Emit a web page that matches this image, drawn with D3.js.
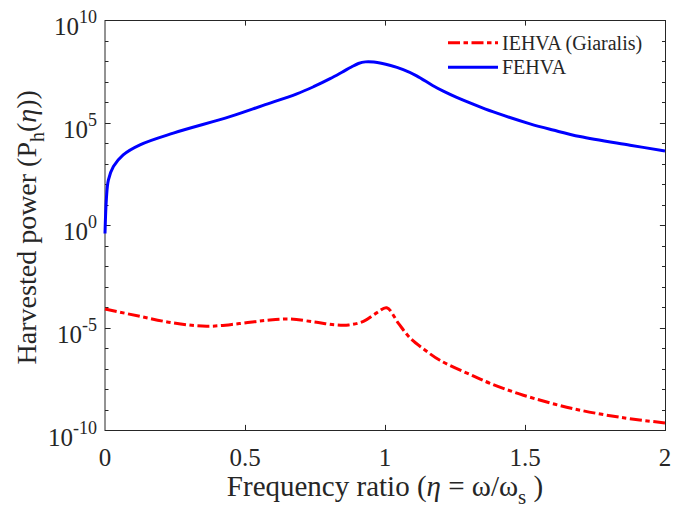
<!DOCTYPE html>
<html>
<head>
<meta charset="utf-8">
<script src="https://cdn.jsdelivr.net/npm/d3@7"></script>
<style>
  body { margin: 0; background: #fff; }
  svg { display: block; }
  text { font-family: "Liberation Serif", "Times New Roman", serif; fill: #262626; }
</style>
</head>
<body>
<div id="chart"></div>
<script>
// frequency ratio eta
var etaFe = [0, 0.005, 0.012, 0.03, 0.065, 0.125, 0.244, 0.446, 0.565, 0.685, 0.745, 0.804, 0.852, 0.88,
             0.905, 0.93, 0.96, 1.02, 1.065, 1.113, 1.17, 1.21, 1.256, 1.339, 1.4, 1.518, 1.6, 1.696,
             1.875, 2];
var powerFe = [0.40, 20, 158, 724, 2690, 8320, 30900, 1.95e5, 6.92e5, 2.51e6, 5.62e6, 1.38e7, 3.16e7, 5.13e7,
               7.59e7, 9.12e7, 8.91e7, 6.03e7, 3.80e7, 1.91e7, 6.46e6, 3.31e6, 1.70e6, 5.89e5, 2.88e5, 8.71e4,
               4.37e4, 2.09e4, 7.94e3, 4.17e3];

var etaIe = [0, 0.125, 0.244, 0.363, 0.48, 0.577, 0.66, 0.756, 0.82, 0.87, 0.923, 0.97, 1.006, 1.048,
             1.09, 1.14, 1.196, 1.315, 1.375, 1.494, 1.673, 1.851, 2];
var powerIe = [8.32e-5, 3.63e-5, 1.74e-5, 1.20e-5, 1.62e-5, 2.34e-5, 2.69e-5, 1.86e-5, 1.41e-5, 1.38e-5,
               2.09e-5, 5.37e-5, 9.55e-5, 1.66e-5, 3.16e-6, 8.91e-7, 2.63e-7, 4.57e-8, 2.0e-8, 5.25e-9,
               1.15e-9, 4.17e-10, 2.34e-10];

var xTicks = [0, 0.5, 1, 1.5, 2];
var xTickLabels = ["0", "0.5", "1", "1.5", "2"];
var yMajorExp = [-10, -5, 0, 5, 10];
var yMinorExp = d3.range(-9, 10);   // one tick per decade
var seriesNames = ["IEHVA (Giaralis)", "FEHVA"];

var W = 694, H = 511;
// NB: "top" is taken by window.top, so keep these prefixed
var pL = 105, pR = 665, pT = 20, pB = 430.5;
var axisColor = "#262626";

var svg = d3.select("#chart").append("svg")
    .attr("width", W)
    .attr("height", H);

var x = d3.scaleLinear().domain([0, 2]).range([pL, pR]);
var y = d3.scaleLog().domain([1e-10, 1e10]).range([pB, pT]);

// box
var g = svg.append("g").attr("fill", "none").attr("stroke", axisColor).attr("stroke-width", 1);
g.append("line").attr("x1", pL).attr("x2", pL).attr("y1", pT).attr("y2", pB + 0.5);
g.append("line").attr("x1", pR + 0.5).attr("x2", pR + 0.5).attr("y1", pT).attr("y2", pB + 0.5);
g.append("line").attr("x1", pL).attr("x2", pR + 0.5).attr("y1", pB).attr("y2", pB);
g.append("line").attr("x1", pL).attr("x2", pR + 0.5).attr("y1", pT + 0.5).attr("y2", pT + 0.5);

// x ticks, bottom and top
xTicks.forEach(function(t) {
  if (t == 0 || t == 2) return;
  var px = Math.round(x(t)) + 0.5;
  g.append("line").attr("x1", px).attr("x2", px).attr("y1", pB).attr("y2", pB - 5.6);
  g.append("line").attr("x1", px).attr("x2", px).attr("y1", pT).attr("y2", pT + 5.6);
});

// y ticks, left and right
yMinorExp.forEach(function(e) {
  var py = Math.round(y(Math.pow(10, e))) + 0.5;
  var len = (e % 5 === 0) ? 5.6 : 3.5;
  g.append("line").attr("x1", pL).attr("x2", pL + len).attr("y1", py).attr("y2", py);
  g.append("line").attr("x1", pR + 0.5).attr("x2", pR + 0.5 - len).attr("y1", py).attr("y2", py);
});

// x tick labels
svg.selectAll(".xlab").data(xTicks).enter().append("text")
    .attr("class", "xlab")
    .attr("x", function(d) { return x(d); })
    .attr("y", 466)
    .attr("text-anchor", "middle")
    .style("font-size", "25px")
    .text(function(d, i) { return xTickLabels[i]; });

// y tick labels 10^n
yMajorExp.forEach(function(e) {
  var py = y(Math.pow(10, e));
  var t = svg.append("text")
      .attr("x", 97)
      .attr("y", py + 15)
      .attr("text-anchor", "end")
      .style("font-size", "25px");
  t.append("tspan").text("10");
  t.append("tspan").attr("dy", -12).style("font-size", "18px").text(String(e));
});

// axis labels
var xl = svg.append("text")
    .attr("x", (pL + pR) / 2)
    .attr("y", 496)
    .attr("text-anchor", "middle")
    .style("font-size", "29px");
xl.append("tspan").text("Frequency ratio (");
xl.append("tspan").style("font-style", "italic").text("η");
xl.append("tspan").text(" = ω/ω");
xl.append("tspan").attr("dy", 8).style("font-size", "21px").text("s");
xl.append("tspan").attr("dy", -8).text(" )");

var yl = svg.append("text")
    .attr("transform", "translate(36," + ((pT + pB) / 2 + 2) + ") rotate(-90)")
    .attr("text-anchor", "middle")
    .style("font-size", "28px");
yl.append("tspan").text("Harvested power (P");
yl.append("tspan").attr("dy", 8).style("font-size", "20px").text("h");
yl.append("tspan").attr("dy", -8).text("(");
yl.append("tspan").style("font-style", "italic").text("η");
yl.append("tspan").text("))");

// curves
var line = d3.line()
    .x(function(d) { return x(d[0]); })
    .y(function(d) { return y(d[1]); })
    .curve(d3.curveCatmullRom.alpha(0.5));

var ieData = d3.zip(etaIe, powerIe);
var feData = d3.zip(etaFe, powerFe);

svg.append("path")
    .datum(ieData)
    .attr("d", line)
    .attr("fill", "none")
    .attr("stroke", "#ff0000")
    .attr("stroke-width", 3)
    .attr("stroke-dasharray", "12,3.5,4.5,3.5");

svg.append("path")
    .datum(feData)
    .attr("d", line)
    .attr("fill", "none")
    .attr("stroke", "#0000ff")
    .attr("stroke-width", 3);

// legend (no box)
var legY = [42.7, 67.3];
var legColors = ["#ff0000", "#0000ff"];
var legDash = ["12,3.5,4.5,3.5", null];
seriesNames.forEach(function(name, i) {
  svg.append("line")
      .attr("x1", 448).attr("x2", 498)
      .attr("y1", legY[i]).attr("y2", legY[i])
      .attr("stroke", legColors[i])
      .attr("stroke-width", 3)
      .attr("stroke-dasharray", legDash[i]);
  svg.append("text")
      .attr("x", 502)
      .attr("y", legY[i] + 7)
      .style("font-size", "20px")
      .text(name);
});
</script>
</body>
</html>
